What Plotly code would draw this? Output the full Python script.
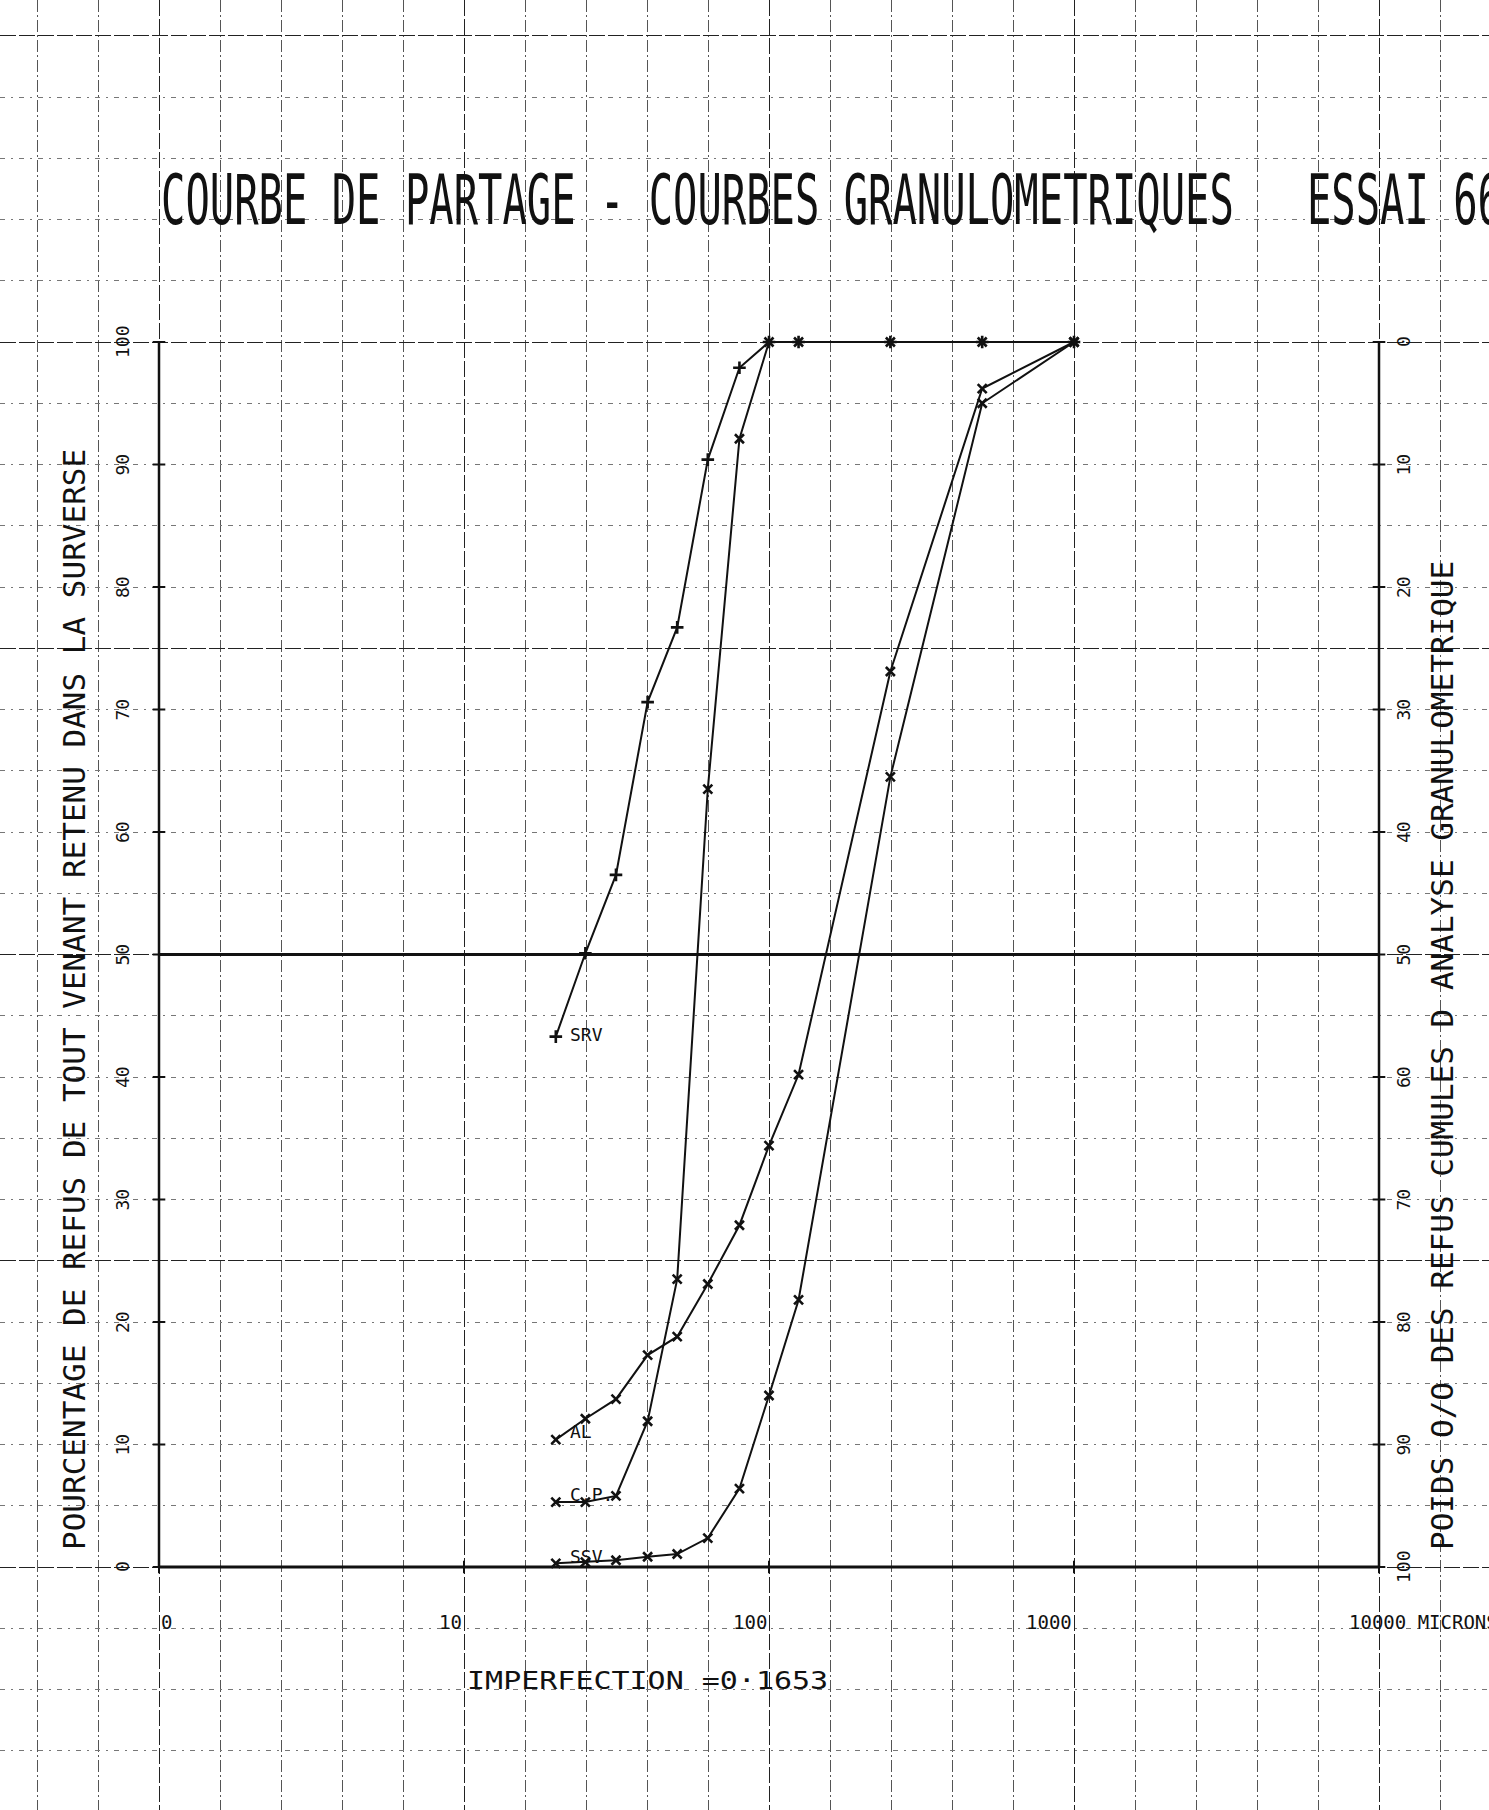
import math
import plotly.graph_objects as go

# ---------------- data ----------------
SIEVES = [20, 25, 31.5, 40, 50, 63, 80, 100, 125, 250, 500, 1000]
SRV = [43.3, 50.1, 56.5, 70.6, 76.7, 90.4, 97.9, 100, 100, 100, 100, 100]
CP = [5.3, 5.3, 5.8, 11.9, 23.5, 63.5, 92.1, 100, 100, 100, 100, 100]
AL = [10.4, 12.1, 13.7, 17.3, 18.8, 23.1, 27.9, 34.4, 40.2, 73.1, 96.2, 100]
SSV = [0.3, 0.4, 0.55, 0.84, 1.06, 2.36, 6.4, 14.0, 21.8, 64.5, 95.0, 100]
SERIES_NAMES = ["SRV", "C.P.", "AL", "SSV"]

LEFT_TICKS = [0, 10, 20, 30, 40, 50, 60, 70, 80, 90, 100]
RIGHT_TICK_TEXT = ["100", "90", "80", "70", "60", "50", "40", "30", "20", "10", "0"]
X_TICKS = [1, 10, 100, 1000, 10000]
X_TICK_TEXT = ["0", "10", "100", "1000", "10000 MICRONS"]

TITLE = "COURBE DE PARTAGE - COURBES GRANULOMETRIQUES\u00a0\u00a0\u00a0ESSAI 66"
Y_TITLE = "POURCENTAGE DE REFUS DE TOUT VENANT RETENU DANS LA SURVERSE"
Y2_TITLE = "POIDS O/O DES REFUS CUMULES D ANALYSE GRANULOMETRIQUE"
NOTE = "IMPERFECTION =0\u00b71653"

# ---------------- layout geometry (pixels) ----------------
W, H = 1489, 1810
X0_PX, DEC_PX = 159, 305       # x=1 micron at 159 px, one decade = 305 px
Y0_PX, UNIT_PX = 1567, 12.25   # y=0 at 1567 px, 1 % = 12.25 px

XR = [-X0_PX / DEC_PX, (W - X0_PX) / DEC_PX]
YR = [-(H - Y0_PX) / UNIT_PX, Y0_PX / UNIT_PX]

FONT = "DejaVu Sans Mono, Liberation Mono, monospace"
INK = "#111111"

fig = go.Figure()

# axis frame (left, right, bottom, 50 % line)
fig.add_trace(go.Scatter(x=[X_TICKS[0], X_TICKS[0]], y=[LEFT_TICKS[0], LEFT_TICKS[-1]],
                         mode="lines", line=dict(color=INK, width=2.5), hoverinfo="skip"))
fig.add_trace(go.Scatter(x=[X_TICKS[-1], X_TICKS[-1]], y=[LEFT_TICKS[0], LEFT_TICKS[-1]],
                         mode="lines", line=dict(color=INK, width=2.5), hoverinfo="skip"))
fig.add_trace(go.Scatter(x=[X_TICKS[0], X_TICKS[-1]], y=[0, 0],
                         mode="lines", line=dict(color=INK, width=3), hoverinfo="skip"))
fig.add_trace(go.Scatter(x=[X_TICKS[0], X_TICKS[-1]], y=[50, 50],
                         mode="lines", line=dict(color=INK, width=3), hoverinfo="skip"))
# tick marks
fig.add_trace(go.Scatter(x=[X_TICKS[0]] * len(LEFT_TICKS), y=LEFT_TICKS, mode="markers",
                         marker=dict(symbol="line-ew", size=9, line=dict(color=INK, width=2)),
                         hoverinfo="skip"))
fig.add_trace(go.Scatter(x=[X_TICKS[-1]] * len(LEFT_TICKS), y=LEFT_TICKS, mode="markers",
                         marker=dict(symbol="line-ew", size=9, line=dict(color=INK, width=2)),
                         hoverinfo="skip"))
fig.add_trace(go.Scatter(x=X_TICKS, y=[0] * len(X_TICKS), mode="markers",
                         marker=dict(symbol="line-ns", size=9, line=dict(color=INK, width=2)),
                         hoverinfo="skip"))

# data series
series = [(SRV, "cross-thin"), (CP, "x-thin"), (AL, "x-thin"), (SSV, "x-thin")]
for (vals, sym), name in zip(series, SERIES_NAMES):
    fig.add_trace(go.Scatter(
        x=SIEVES, y=vals, mode="lines+markers", name=name,
        line=dict(color=INK, width=2),
        marker=dict(symbol=sym, size=9, color=INK, line=dict(color=INK, width=2.6)),
    ))

ann = []
# series labels next to first point
label_shift = {"SRV": 2, "C.P.": 8, "AL": 8, "SSV": 7}
for (vals, _), name in zip(series, SERIES_NAMES):
    ann.append(dict(x=math.log10(SIEVES[0]), y=vals[0], xref="x", yref="y", text=name,
                    showarrow=False, xanchor="left", yanchor="middle", xshift=12,
                    yshift=label_shift[name], font=dict(family=FONT, size=18, color=INK)))

# left / right tick labels
for v, rt in zip(LEFT_TICKS, RIGHT_TICK_TEXT):
    ann.append(dict(x=math.log10(X_TICKS[0]), y=v, xref="x", yref="y", text=str(v),
                    showarrow=False, textangle=-90, xshift=-37,
                    font=dict(family=FONT, size=18, color=INK)))
    ann.append(dict(x=math.log10(X_TICKS[-1]), y=v, xref="x", yref="y", text=rt,
                    showarrow=False, textangle=-90, xshift=24,
                    font=dict(family=FONT, size=18, color=INK)))

# x tick labels
for i, (xv, t) in enumerate(zip(X_TICKS, X_TICK_TEXT)):
    if i == 0:
        xa, xs = "left", 0
    elif i == len(X_TICKS) - 1:
        xa, xs = "left", -32
    else:
        xa, xs = "right", 0
    ann.append(dict(x=math.log10(xv), y=-4.5, xref="x", yref="y", text=t, showarrow=False,
                    xanchor=xa, xshift=xs, yanchor="middle",
                    font=dict(family=FONT, size=19, color=INK)))

# titles
ann.append(dict(x=X0_PX / W, y=1 - 200 / H, xref="paper", yref="paper", text=TITLE,
                showarrow=False, xanchor="left", yanchor="middle",
                font=dict(family=FONT, size=40.5, color=INK)))
ann.append(dict(x=54 / W, y=1 - 1000 / H, xref="paper", yref="paper", text=Y_TITLE,
                showarrow=False, textangle=-90, font=dict(family=FONT, size=31, color=INK)))
ann.append(dict(x=1462 / W, y=1 - 1056 / H, xref="paper", yref="paper", text=Y2_TITLE,
                showarrow=False, textangle=-90, font=dict(family=FONT, size=31, color=INK)))
ann.append(dict(x=465 / W, y=1 - 1680 / H, xref="paper", yref="paper", text=NOTE,
                showarrow=False, xanchor="left", yanchor="middle",
                font=dict(family=FONT, size=30, color=INK)))

fig.update_layout(
    width=W, height=H, margin=dict(l=0, r=0, t=0, b=0),
    paper_bgcolor="white", plot_bgcolor="white", showlegend=False,
    annotations=ann,
    xaxis=dict(type="log", range=XR, showticklabels=False, ticks="", zeroline=False,
               showline=False, showgrid=True, tick0=0, dtick=1,
               gridcolor="#222222", gridwidth=1.4, griddash="16px,3px",
               minor=dict(tick0=0, dtick=0.2, showgrid=True, gridcolor="#555555",
                          gridwidth=1, griddash="12px,3px,2px,3px", ticks="")),
    yaxis=dict(range=YR, showticklabels=False, ticks="", zeroline=False, showline=False,
               showgrid=True, tick0=0, dtick=25,
               gridcolor="#222222", gridwidth=1.4, griddash="16px,3px",
               minor=dict(tick0=0, dtick=5, showgrid=True, gridcolor="#777777",
                          gridwidth=1, griddash="5px,6px,2px,6px", ticks="")),
)

post = """
document.body.style.margin = '0';
document.body.style.padding = '0';
var gd = document.getElementById('{plot_id}');
function stretchTexts(){
  var items = gd.querySelectorAll('text.annotation-text');
  items.forEach(function(t){
    var s = t.textContent || '';
    var k = null;
    if (s.indexOf('COURBE') === 0) k = 1.72;
    else if (s.indexOf('IMPERFECTION') === 0) k = 0.85;
    if (k){
      t.removeAttribute('transform');
      var b = t.getBBox();
      var cy = b.y + b.height / 2;
      t.setAttribute('transform', 'translate(0,' + cy + ') scale(1,' + k + ') translate(0,' + (-cy) + ')');
    }
  });
}
stretchTexts();
if (gd.on) { gd.on('plotly_afterplot', stretchTexts); }
"""

fig.write_html("out.html", post_script=post, config={"displayModeBar": False})
